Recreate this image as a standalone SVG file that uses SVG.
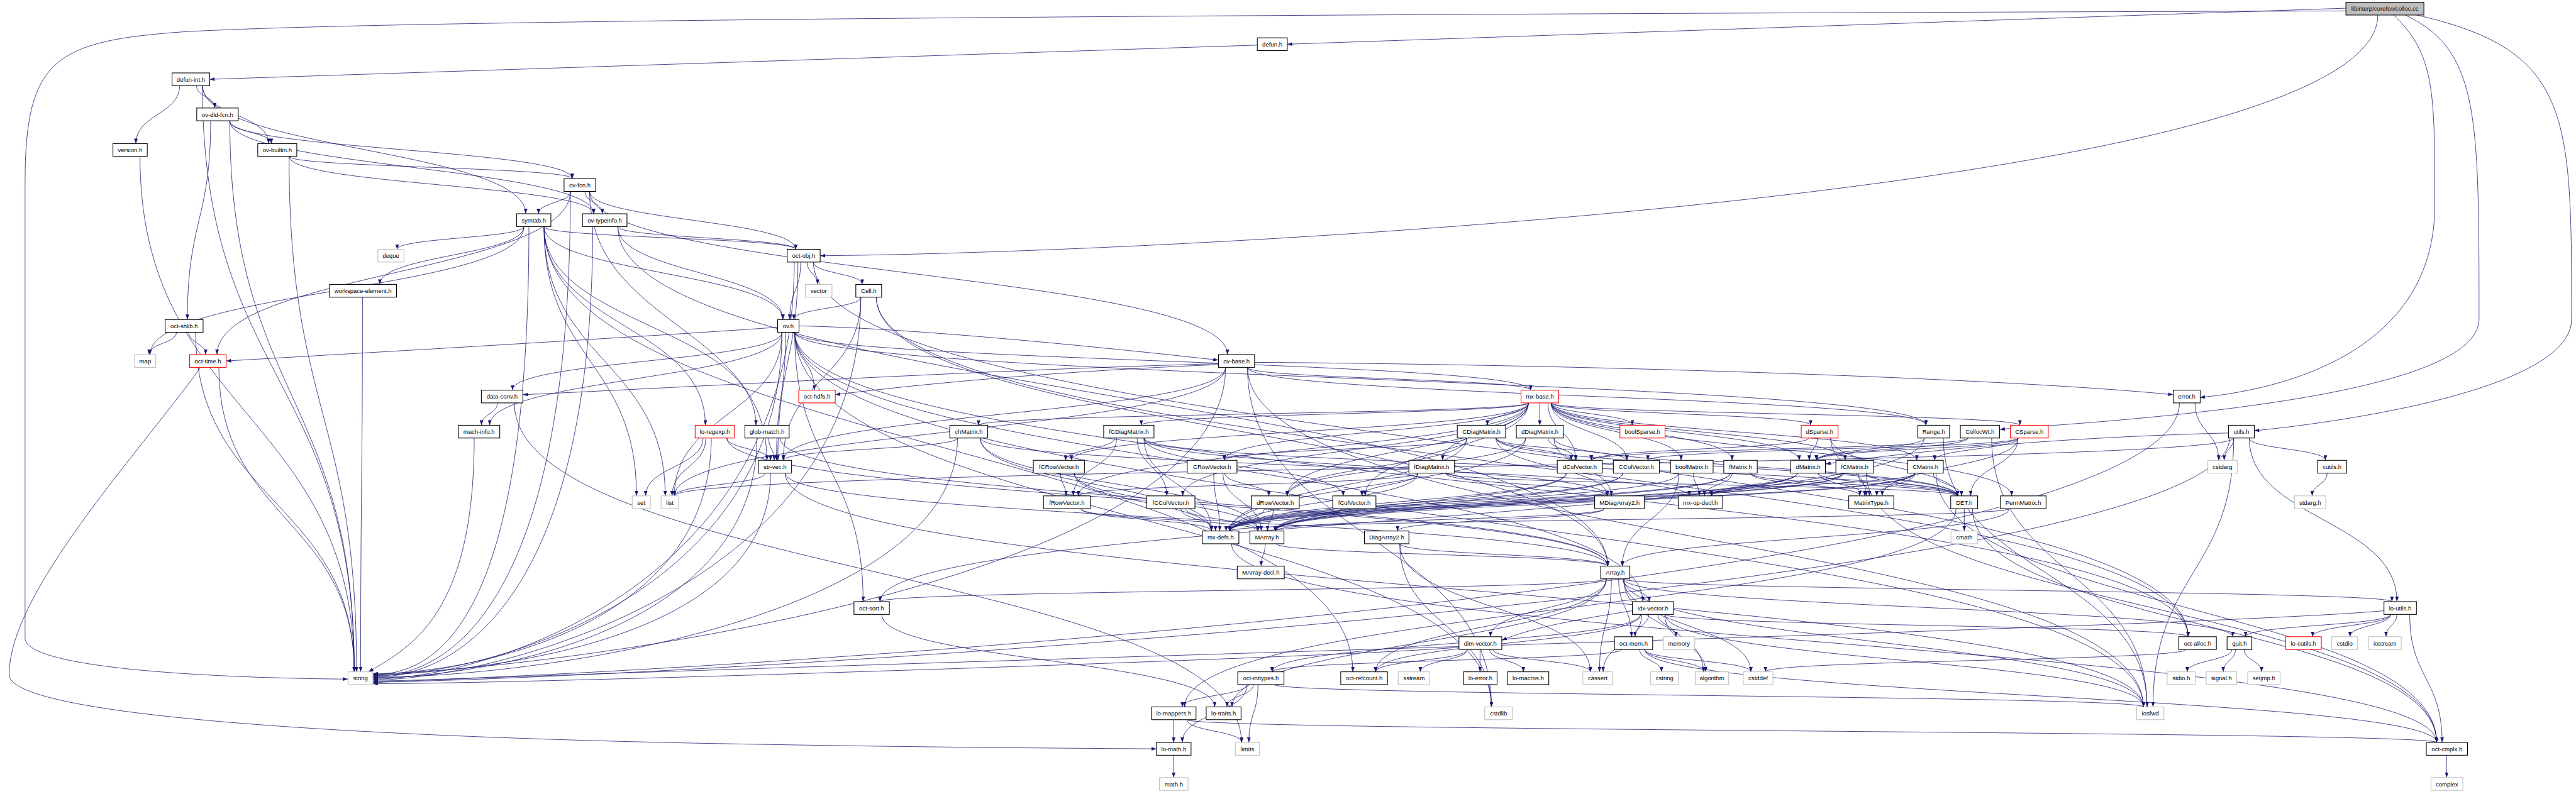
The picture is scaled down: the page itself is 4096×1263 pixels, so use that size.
<svg xmlns="http://www.w3.org/2000/svg" width="4096" height="1263" viewBox="0 0 4096 1263">
<defs>
<marker id="a" viewBox="0 0 11 8" refX="11" refY="4" markerWidth="11" markerHeight="8" markerUnits="userSpaceOnUse" orient="auto"><path d="M0,0L11,4L0,8z" fill="#191970"/></marker>
<style>
.k{fill:#fff;stroke:#000;stroke-width:1.5}
.g{fill:#fff;stroke:#bfbfbf;stroke-width:1.5}
.r{fill:#fff;stroke:#ff0000;stroke-width:1.5}
.root{fill:#bfbfbf;stroke:#000;stroke-width:1.5}
text{font-family:"Liberation Sans",Arial,sans-serif;font-size:13.2px;text-anchor:middle;fill:#000}
#edges path{fill:none;stroke:#191970;stroke-width:1.1;marker-end:url(#a)}
</style>
</defs>
<rect width="4096" height="1263" fill="#fff"/>
<g transform="scale(0.725)">
<g id="edges">
<path d="M5145 24C3200 30 900 40 400 70C120 90 55 130 55 400L55 1400C55 1470 500 1488 763 1490"/>
<path d="M5145 18L2823 97"/>
<path d="M5215 33C5215 420 2600 555 1799 561"/>
<path d="M5250 33C5340 120 5340 200 5340 450C5340 800 4950 860 4825 872"/>
<path d="M5300 33C5640 110 5640 250 5640 700C5640 860 5100 930 4944 945"/>
<path d="M5275 33C5437 110 5437 250 5437 700C5437 880 4600 925 4386 942"/>
<path d="M2757 99L460 174"/>
<path d="M444 188C444 831 777 831 777 1474"/>
<path d="M444 188C444 251 589 251 589 315"/>
<path d="M431 188C431 212 471 212 471 237"/>
<path d="M444 188C444 328 1153 328 1153 469"/>
<path d="M394 188C394 251 298 251 298 315"/>
<path d="M504 265C504 869 777 869 777 1474"/>
<path d="M462 265C462 483 411 483 411 701"/>
<path d="M503 265C503 290 595 290 595 315"/>
<path d="M504 265C504 328 1255 328 1255 392"/>
<path d="M504 265C504 367 1302 367 1302 469"/>
<path d="M307 343C307 908 777 908 777 1474"/>
<path d="M634 343C634 908 782 908 782 1474"/>
<path d="M634 343C634 367 1255 367 1255 392"/>
<path d="M634 343C634 406 1302 406 1302 469"/>
<path d="M1251 420C1251 1300 1000 1484 818 1484"/>
<path d="M1251 420C1251 599 476 599 476 778"/>
<path d="M1293 420C1293 715 1682 715 1682 1010"/>
<path d="M1293 420C1293 483 1745 483 1745 547"/>
<path d="M1293 420C1293 599 2692 599 2692 778"/>
<path d="M1283 420C1283 444 1321 444 1321 469"/>
<path d="M1252 420C1252 444 1181 444 1181 469"/>
<path d="M1149 497C1149 522 871 522 871 547"/>
<path d="M1193 497C1193 792 1459 792 1459 1088"/>
<path d="M1149 497C1149 637 329 637 329 778"/>
<path d="M1193 497C1193 792 1396 792 1396 1088"/>
<path d="M1160 497C1160 1300 990 1480 818 1480"/>
<path d="M1193 497C1193 715 1658 715 1658 933"/>
<path d="M1193 497C1193 715 1547 715 1547 933"/>
<path d="M1193 497C1193 522 1745 522 1745 547"/>
<path d="M1149 497C1149 560 833 560 833 624"/>
<path d="M1193 497C1193 985 2967 985 2967 1474"/>
<path d="M1193 497C1193 599 1717 599 1717 701"/>
<path d="M1300 497C1300 1300 1010 1486 818 1486"/>
<path d="M1355 497C1355 869 3526 869 3526 1242"/>
<path d="M1355 497C1355 522 1745 522 1745 547"/>
<path d="M1355 497C1355 599 1717 599 1717 701"/>
<path d="M429 729C429 1101 777 1101 777 1474"/>
<path d="M387 729C387 753 327 753 327 778"/>
<path d="M414 729C414 753 451 753 451 778"/>
<path d="M795 652C795 1063 791 1063 791 1474"/>
<path d="M1742 575C1742 1300 1050 1490 818 1490"/>
<path d="M1770 575C1770 600 1793 600 1793 624"/>
<path d="M1784 575C1784 986 4799 986 4799 1397"/>
<path d="M1750 575C1750 792 1706 792 1706 1010"/>
<path d="M1784 575C1784 600 1891 600 1891 624"/>
<path d="M1756 575C1756 638 1732 638 1732 701"/>
<path d="M1888 652C1888 1300 1060 1492 818 1492"/>
<path d="M1922 652C1922 947 3526 947 3526 1242"/>
<path d="M1922 652C1922 1024 4799 1024 4799 1397"/>
<path d="M1888 652C1888 831 1718 831 1718 1010"/>
<path d="M1888 652C1888 676 1741 676 1741 701"/>
<path d="M1743 729C1743 1140 3271 1140 3271 1551"/>
<path d="M1743 729C1743 1140 4701 1140 4701 1551"/>
<path d="M1715 729C1715 1300 1080 1482 818 1482"/>
<path d="M1715 729C1715 908 1479 908 1479 1088"/>
<path d="M1743 729C1743 831 4224 831 4224 933"/>
<path d="M1715 729C1715 792 1124 792 1124 856"/>
<path d="M1743 729C1743 1024 3603 1024 3603 1320"/>
<path d="M1715 729C1715 831 1074 831 1074 933"/>
<path d="M1743 729C1743 792 3357 792 3357 856"/>
<path d="M1743 729C1743 1063 4799 1063 4799 1397"/>
<path d="M1705 718C1400 740 700 780 496 792"/>
<path d="M1723 729C1723 869 1703 869 1703 1010"/>
<path d="M1743 729C1743 792 1786 792 1786 856"/>
<path d="M1743 729C1743 1024 1893 1024 1893 1320"/>
<path d="M1752 715C2000 720 2400 760 2672 790"/>
<path d="M480 806C480 1140 777 1140 777 1474"/>
<path d="M440 806C300 1000 20 1300 20 1480C20 1560 600 1610 1500 1630C2000 1640 2400 1642 2536 1643"/>
<path d="M2736 806C2736 1178 3271 1178 3271 1551"/>
<path d="M2736 806C2736 1178 4701 1178 4701 1551"/>
<path d="M2688 806C2688 947 1479 947 1479 1088"/>
<path d="M2688 806C2688 1300 1100 1478 818 1478"/>
<path d="M2736 806C2736 869 4224 869 4224 933"/>
<path d="M2672 798C2200 810 1500 850 1147 866"/>
<path d="M2736 806C2736 831 3357 831 3357 856"/>
<path d="M2688 806C2688 908 1718 908 1718 1010"/>
<path d="M2751 795C3500 800 4400 830 4766 866"/>
<path d="M2672 800C2300 815 2000 845 1832 866"/>
<path d="M1128 884C1128 1256 2723 1256 2723 1629"/>
<path d="M1091 884C1091 908 1056 908 1056 933"/>
<path d="M1040 961C1040 1350 900 1420 808 1474"/>
<path d="M4814 884C4814 947 4866 947 4866 1010"/>
<path d="M4780 884C4780 1300 1200 1494 818 1494"/>
<path d="M4899 961C4899 985 4878 985 4878 1010"/>
<path d="M4899 961C4899 1256 4722 1256 4722 1551"/>
<path d="M4890 961C4890 1300 1300 1496 818 1496"/>
<path d="M4899 961C4899 1024 1479 1024 1479 1088"/>
<path d="M4887 950C4500 960 4200 990 4004 1018"/>
<path d="M4933 961C4933 1140 5257 1140 5257 1320"/>
<path d="M4933 961C4933 985 5100 985 5100 1010"/>
<path d="M5104 1038C5104 1063 5071 1063 5071 1088"/>
<path d="M1548 961C1548 1024 1474 1024 1474 1088"/>
<path d="M1542 961C1542 1024 1416 1024 1416 1088"/>
<path d="M1560 961C1560 1350 1100 1470 818 1480"/>
<path d="M1594 961C1594 1101 3526 1101 3526 1242"/>
<path d="M1594 961C1594 985 1690 985 1690 1010"/>
<path d="M1660 961C1660 1350 1150 1480 818 1488"/>
<path d="M1711 961C1711 1101 3526 1101 3526 1242"/>
<path d="M1686 961C1686 985 1698 985 1698 1010"/>
<path d="M1722 1038C1722 1294 4701 1294 4701 1551"/>
<path d="M1678 1038C1678 1063 1479 1063 1479 1088"/>
<path d="M1690 1038C1690 1400 1100 1470 818 1482"/>
<path d="M1722 1038C1722 1140 3526 1140 3526 1242"/>
<path d="M3402 884C3402 947 3687 947 3687 1010"/>
<path d="M3352 884C3352 908 2146 908 2146 933"/>
<path d="M3395 884C3395 947 3456 947 3456 1010"/>
<path d="M3352 884C3352 986 2823 986 2823 1088"/>
<path d="M3402 884C3402 947 3946 947 3946 1010"/>
<path d="M3402 884C3402 947 3568 947 3568 1010"/>
<path d="M3352 884C3352 947 2685 947 2685 1010"/>
<path d="M3402 884C3402 947 4204 947 4204 1010"/>
<path d="M3352 884C3352 986 2994 986 2994 1088"/>
<path d="M3352 884C3352 986 2365 986 2365 1088"/>
<path d="M3402 884C3402 947 3799 947 3799 1010"/>
<path d="M3352 884C3352 986 2594 986 2594 1088"/>
<path d="M3352 884C3352 947 2350 947 2350 1010"/>
<path d="M3402 884C3402 947 4047 947 4047 1010"/>
<path d="M3377 884L3377 933"/>
<path d="M3352 884C3352 908 3262 908 3262 933"/>
<path d="M3352 884C3352 947 3164 947 3164 1010"/>
<path d="M3352 884C3352 908 2503 908 2503 933"/>
<path d="M3402 884C3402 986 4412 986 4412 1088"/>
<path d="M3402 884C3402 908 3580 908 3580 933"/>
<path d="M3402 884C3402 908 3971 908 3971 933"/>
<path d="M3402 884C3402 908 4430 908 4430 933"/>
<path d="M2100 961C2100 1350 1200 1486 818 1486"/>
<path d="M2150 961C2150 1063 2657 1063 2657 1165"/>
<path d="M2150 961C2150 1024 3705 1024 3705 1088"/>
<path d="M2100 961C2100 985 1718 985 1718 1010"/>
<path d="M2150 961C2150 1063 2759 1063 2759 1165"/>
<path d="M2445 961C2445 985 2337 985 2337 1010"/>
<path d="M2449 961C2449 1024 2354 1024 2354 1088"/>
<path d="M2494 961C2494 1024 2559 1024 2559 1088"/>
<path d="M2509 961C2509 1024 2946 1024 2946 1088"/>
<path d="M2509 961C2509 1024 3525 1024 3525 1088"/>
<path d="M2509 961C2509 1063 2657 1063 2657 1165"/>
<path d="M2509 961C2509 1024 4293 1024 4293 1088"/>
<path d="M3217 961C3217 985 2685 985 2685 1010"/>
<path d="M3217 961C3217 1024 2823 1024 2823 1088"/>
<path d="M3281 961C3281 985 3568 985 3568 1010"/>
<path d="M3281 961C3281 985 3446 985 3446 1010"/>
<path d="M3281 961C3281 1024 3525 1024 3525 1088"/>
<path d="M3217 961C3217 1063 2697 1063 2697 1165"/>
<path d="M3281 961C3281 1024 4293 1024 4293 1088"/>
<path d="M3346 961C3346 1024 2823 1024 2823 1088"/>
<path d="M3395 961C3395 985 3456 985 3456 1010"/>
<path d="M3408 961C3408 1024 3534 1024 3534 1088"/>
<path d="M3346 961C3346 1063 2697 1063 2697 1165"/>
<path d="M3408 961C3408 1024 4293 1024 4293 1088"/>
<path d="M3110 1038C3110 1063 2365 1063 2365 1088"/>
<path d="M3110 1038C3110 1063 2987 1063 2987 1088"/>
<path d="M3170 1038C3170 1063 3525 1063 3525 1088"/>
<path d="M3110 1038C3110 1101 2697 1101 2697 1165"/>
<path d="M3170 1038C3170 1063 4293 1063 4293 1088"/>
<path d="M2326 1038C2326 1063 2338 1063 2338 1088"/>
<path d="M2356 1038C2356 1101 2759 1101 2759 1165"/>
<path d="M2356 1038C2356 1101 2657 1101 2657 1165"/>
<path d="M2686 1038C2686 1063 2783 1063 2783 1088"/>
<path d="M2682 1038C2682 1101 2766 1101 2766 1165"/>
<path d="M2662 1038C2662 1101 2675 1101 2675 1165"/>
<path d="M2371 1116C2371 1140 2759 1140 2759 1165"/>
<path d="M2371 1116C2371 1140 2657 1140 2657 1165"/>
<path d="M2600 1116C2600 1140 2759 1140 2759 1165"/>
<path d="M2590 1116C2590 1140 2666 1140 2666 1165"/>
<path d="M2793 1116C2793 1140 2780 1140 2780 1165"/>
<path d="M2773 1116C2773 1140 2689 1140 2689 1165"/>
<path d="M2942 1116C2942 1140 2797 1140 2797 1165"/>
<path d="M2942 1116C2942 1140 2697 1140 2697 1165"/>
<path d="M3435 1038C3435 1101 2797 1101 2797 1165"/>
<path d="M3435 1038C3435 1101 2697 1101 2697 1165"/>
<path d="M3559 1038C3559 1101 2797 1101 2797 1165"/>
<path d="M3559 1038C3559 1101 2697 1101 2697 1165"/>
<path d="M3682 1038C3682 1101 2697 1101 2697 1165"/>
<path d="M3714 1038C3714 1063 3727 1063 3727 1088"/>
<path d="M3682 1038C3682 1140 3558 1140 3558 1242"/>
<path d="M3795 1038C3795 1101 2797 1101 2797 1165"/>
<path d="M3795 1038C3795 1101 2697 1101 2697 1165"/>
<path d="M3799 1038C3799 1063 3738 1063 3738 1088"/>
<path d="M3839 1038C3839 1063 4079 1063 4079 1088"/>
<path d="M3839 1038C3839 1063 4293 1063 4293 1088"/>
<path d="M3942 1038C3942 1101 2797 1101 2797 1165"/>
<path d="M3942 1038C3942 1101 2697 1101 2697 1165"/>
<path d="M3942 1038C3942 1063 3753 1063 3753 1088"/>
<path d="M3988 1038C3988 1063 4090 1063 4090 1088"/>
<path d="M3988 1038C3988 1063 4293 1063 4293 1088"/>
<path d="M4043 1038C4043 1101 2797 1101 2797 1165"/>
<path d="M4043 1038C4043 1101 2697 1101 2697 1165"/>
<path d="M4043 1038C4043 1063 3753 1063 3753 1088"/>
<path d="M4075 1038C4075 1063 4100 1063 4100 1088"/>
<path d="M4093 1038C4093 1063 4293 1063 4293 1088"/>
<path d="M4093 1038C4093 1333 5344 1333 5344 1629"/>
<path d="M4200 1038C4200 1101 2797 1101 2797 1165"/>
<path d="M4200 1038C4200 1101 2697 1101 2697 1165"/>
<path d="M4200 1038C4200 1063 3753 1063 3753 1088"/>
<path d="M4200 1038C4200 1063 4116 1063 4116 1088"/>
<path d="M4240 1038C4240 1063 4302 1063 4302 1088"/>
<path d="M4246 1038C4246 1333 5344 1333 5344 1629"/>
<path d="M3986 961C3986 985 3968 985 3968 1010"/>
<path d="M4015 961C4015 1024 4093 1024 4093 1088"/>
<path d="M4015 961C4015 1024 4293 1024 4293 1088"/>
<path d="M3967 961C3967 985 3490 985 3490 1010"/>
<path d="M4426 961C4426 985 4243 985 4243 1010"/>
<path d="M4426 961C4426 985 3984 985 3984 1010"/>
<path d="M4426 961C4426 1024 4128 1024 4128 1088"/>
<path d="M4426 961C4426 1024 4322 1024 4322 1088"/>
<path d="M4426 961C4426 985 3614 985 3614 1010"/>
<path d="M4262 961C4262 1256 4709 1256 4709 1551"/>
<path d="M4220 961C4220 985 3984 985 3984 1010"/>
<path d="M4220 961C4220 1140 1930 1140 1930 1320"/>
<path d="M4368 961C4368 1256 4709 1256 4709 1551"/>
<path d="M4316 961C4316 985 3984 985 3984 1010"/>
<path d="M4316 961C4316 985 3490 985 3490 1010"/>
<path d="M4407 1116C4407 1179 3558 1179 3558 1242"/>
<path d="M4407 1116C4407 1140 2697 1140 2697 1165"/>
<path d="M4308 1116L4308 1165"/>
<path d="M4326 1116C4326 1372 5344 1372 5344 1629"/>
<path d="M4290 1116C4290 1333 2598 1333 2598 1551"/>
<path d="M3519 1116C3519 1140 3065 1140 3065 1165"/>
<path d="M3519 1116C3519 1140 2797 1140 2797 1165"/>
<path d="M2800 1193C2800 1217 3526 1217 3526 1242"/>
<path d="M2775 1193C2775 1217 2766 1217 2766 1242"/>
<path d="M2701 1193C2701 1411 5344 1411 5344 1629"/>
<path d="M3070 1193C3070 1333 3488 1333 3488 1474"/>
<path d="M3070 1193C3070 1372 3271 1372 3271 1551"/>
<path d="M3070 1193C3070 1217 3526 1217 3526 1242"/>
<path d="M3534 1270C3534 1372 3508 1372 3508 1474"/>
<path d="M3561 1270C3561 1372 3840 1372 3840 1474"/>
<path d="M3561 1270C3561 1372 3736 1372 3736 1474"/>
<path d="M3561 1270C3561 1410 4701 1410 4701 1551"/>
<path d="M3523 1270C3523 1295 1930 1295 1930 1320"/>
<path d="M3523 1270C3523 1333 3269 1333 3269 1397"/>
<path d="M3559 1270C3559 1295 3617 1295 3617 1320"/>
<path d="M3523 1270C3523 1410 2702 1410 2702 1551"/>
<path d="M3561 1270C3561 1295 5246 1295 5246 1320"/>
<path d="M3550 1270C3550 1333 3578 1333 3578 1397"/>
<path d="M3523 1270C3523 1372 3017 1372 3017 1474"/>
<path d="M3561 1270C3561 1333 4897 1333 4897 1397"/>
<path d="M1934 1348C1934 1449 2664 1449 2664 1551"/>
<path d="M3601 1348C3601 1411 3516 1411 3516 1474"/>
<path d="M3651 1348C3651 1411 3741 1411 3741 1474"/>
<path d="M3652 1348C3652 1449 4701 1449 4701 1551"/>
<path d="M3636 1348C3636 1372 3676 1372 3676 1397"/>
<path d="M3580 1340C3450 1360 3350 1380 3294 1405"/>
<path d="M3598 1348C3598 1411 2790 1411 2790 1474"/>
<path d="M3652 1348C3652 1372 4799 1372 4799 1397"/>
<path d="M3616 1348C3616 1372 3586 1372 3586 1397"/>
<path d="M3598 1348C3598 1411 3017 1411 3017 1474"/>
<path d="M3274 1425C3274 1449 3488 1449 3488 1474"/>
<path d="M3218 1425C3218 1449 3115 1449 3115 1474"/>
<path d="M3200 1420C3000 1440 1200 1500 818 1500"/>
<path d="M3246 1425L3246 1474"/>
<path d="M3267 1425C3267 1449 3341 1449 3341 1474"/>
<path d="M3218 1425C3218 1449 3017 1449 3017 1474"/>
<path d="M3607 1425C3607 1449 3840 1449 3840 1474"/>
<path d="M3596 1425C3596 1449 3644 1449 3644 1474"/>
<path d="M3607 1425C3607 1449 3737 1449 3737 1474"/>
<path d="M3607 1425C3607 1527 5344 1527 5344 1629"/>
<path d="M3557 1425C3557 1449 2790 1449 2790 1474"/>
<path d="M5243 1348C5243 1372 5154 1372 5154 1397"/>
<path d="M5257 1348C5257 1372 5233 1372 5233 1397"/>
<path d="M5228 1340C4800 1380 1300 1470 818 1498"/>
<path d="M5243 1348C5243 1372 5072 1372 5072 1397"/>
<path d="M5285 1348C5285 1488 5356 1488 5356 1629"/>
<path d="M5243 1348C5243 1372 4925 1372 4925 1397"/>
<path d="M4895 1425C4895 1449 4797 1449 4797 1474"/>
<path d="M4903 1425C4903 1449 4876 1449 4876 1474"/>
<path d="M4922 1425C4922 1449 4960 1449 4960 1474"/>
<path d="M4794 1425C4794 1449 3872 1449 3872 1474"/>
<path d="M2759 1502C2759 1565 2739 1565 2739 1629"/>
<path d="M2795 1502C2795 1526 4701 1526 4701 1551"/>
<path d="M2749 1502C2749 1526 2691 1526 2691 1551"/>
<path d="M2735 1502C2735 1526 2593 1526 2593 1551"/>
<path d="M2735 1502C2735 1565 2593 1565 2593 1629"/>
<path d="M2603 1579C2603 1604 2723 1604 2723 1629"/>
<path d="M2574 1579L2574 1629"/>
<path d="M2603 1579C2603 1604 5344 1604 5344 1629"/>
<path d="M2574 1657L2574 1706"/>
<path d="M5366 1657L5366 1706"/>
</g>
<g id="nodes">
<g id="n-colloc"><rect class="root" x="5145" y="5" width="171" height="28"/><text x="5230.5" y="24">libinterp/corefcn/colloc.cc</text></g>
<g id="n-defun"><rect class="k" x="2757.5" y="83" width="65.7" height="28"/><text x="2790.4" y="102">defun.h</text></g>
<g id="n-defun-int"><rect class="k" x="377.3" y="160" width="82.5" height="28"/><text x="418.6" y="179">defun-int.h</text></g>
<g id="n-ov-dld-fcn"><rect class="k" x="431.5" y="237" width="91" height="28"/><text x="477" y="256">ov-dld-fcn.h</text></g>
<g id="n-version"><rect class="k" x="247.7" y="315" width="75.3" height="28"/><text x="285.4" y="334">version.h</text></g>
<g id="n-ov-builtin"><rect class="k" x="565.3" y="315" width="85.6" height="28"/><text x="608.1" y="334">ov-builtin.h</text></g>
<g id="n-ov-fcn"><rect class="k" x="1237.1" y="392" width="69.3" height="28"/><text x="1271.8" y="411">ov-fcn.h</text></g>
<g id="n-symtab"><rect class="k" x="1132.9" y="469" width="75.3" height="28"/><text x="1170.6" y="488">symtab.h</text></g>
<g id="n-ov-typeinfo"><rect class="k" x="1277.5" y="469" width="97.6" height="28"/><text x="1326.3" y="488">ov-typeinfo.h</text></g>
<g id="n-deque"><rect class="g" x="828.7" y="547" width="57.2" height="28"/><text x="857.3" y="566">deque</text></g>
<g id="n-oct-obj"><rect class="k" x="1726.5" y="547" width="72.3" height="28"/><text x="1762.7" y="566">oct-obj.h</text></g>
<g id="n-workspace-element"><rect class="k" x="722.6" y="624" width="147" height="28"/><text x="796.1" y="643">workspace-element.h</text></g>
<g id="n-vector"><rect class="g" x="1766.3" y="624" width="58.4" height="28"/><text x="1795.5" y="643">vector</text></g>
<g id="n-Cell"><rect class="k" x="1877" y="624" width="56.6" height="28"/><text x="1905.3" y="643">Cell.h</text></g>
<g id="n-oct-shlib"><rect class="k" x="362.2" y="701" width="83.2" height="28"/><text x="403.8" y="720">oct-shlib.h</text></g>
<g id="n-ov"><rect class="k" x="1705.4" y="701" width="47" height="28"/><text x="1728.9" y="720">ov.h</text></g>
<g id="n-map"><rect class="g" x="295.3" y="778" width="46.4" height="28"/><text x="318.5" y="797">map</text></g>
<g id="n-oct-time"><rect class="r" x="415.8" y="778" width="80.2" height="28"/><text x="455.9" y="797">oct-time.h</text></g>
<g id="n-ov-base"><rect class="k" x="2672.5" y="778" width="79" height="28"/><text x="2712" y="797">ov-base.h</text></g>
<g id="n-data-conv"><rect class="k" x="1055.7" y="856" width="91" height="28"/><text x="1101.2" y="875">data-conv.h</text></g>
<g id="n-oct-hdf5"><rect class="r" x="1751.8" y="856" width="80.1" height="28"/><text x="1791.9" y="875">oct-hdf5.h</text></g>
<g id="n-mx-base"><rect class="r" x="3335.9" y="856" width="82.5" height="28"/><text x="3377.2" y="875">mx-base.h</text></g>
<g id="n-error"><rect class="k" x="4766.3" y="856" width="59.1" height="28"/><text x="4795.9" y="875">error.h</text></g>
<g id="n-mach-info"><rect class="k" x="1005.1" y="933" width="91" height="28"/><text x="1050.6" y="952">mach-info.h</text></g>
<g id="n-lo-regexp"><rect class="r" x="1524.6" y="933" width="86.2" height="28"/><text x="1567.7" y="952">lo-regexp.h</text></g>
<g id="n-glob-match"><rect class="k" x="1633.7" y="933" width="97" height="28"/><text x="1682.2" y="952">glob-match.h</text></g>
<g id="n-chMatrix"><rect class="k" x="2083.1" y="933" width="83.2" height="28"/><text x="2124.7" y="952">chMatrix.h</text></g>
<g id="n-fCDiagMatrix"><rect class="k" x="2420.6" y="933" width="110.3" height="28"/><text x="2475.8" y="952">fCDiagMatrix.h</text></g>
<g id="n-CDiagMatrix"><rect class="k" x="3196.1" y="933" width="106" height="28"/><text x="3249.1" y="952">CDiagMatrix.h</text></g>
<g id="n-dDiagMatrix"><rect class="k" x="3325.6" y="933" width="103.1" height="28"/><text x="3377.2" y="952">dDiagMatrix.h</text></g>
<g id="n-boolSparse"><rect class="r" x="3552.8" y="933" width="98.9" height="28"/><text x="3602.3" y="952">boolSparse.h</text></g>
<g id="n-dSparse"><rect class="r" x="3950.4" y="933" width="80.8" height="28"/><text x="3990.8" y="952">dSparse.h</text></g>
<g id="n-Range"><rect class="k" x="4206" y="933" width="69.9" height="28"/><text x="4241" y="952">Range.h</text></g>
<g id="n-CollocWt"><rect class="k" x="4299.4" y="933" width="86.2" height="28"/><text x="4342.5" y="952">CollocWt.h</text></g>
<g id="n-CSparse"><rect class="r" x="4409.1" y="933" width="83.1" height="28"/><text x="4450.7" y="952">CSparse.h</text></g>
<g id="n-utils"><rect class="k" x="4887.4" y="933" width="56.7" height="28"/><text x="4915.8" y="952">utils.h</text></g>
<g id="n-str-vec"><rect class="k" x="1663.2" y="1010" width="72.9" height="28"/><text x="1699.7" y="1029">str-vec.h</text></g>
<g id="n-fCRowVector"><rect class="k" x="2266.3" y="1010" width="112.1" height="28"/><text x="2322.4" y="1029">fCRowVector.h</text></g>
<g id="n-CRowVector"><rect class="k" x="2603.8" y="1010" width="109.1" height="28"/><text x="2658.4" y="1029">CRowVector.h</text></g>
<g id="n-fDiagMatrix"><rect class="k" x="3090" y="1010" width="100" height="28"/><text x="3140" y="1029">fDiagMatrix.h</text></g>
<g id="n-dColVector"><rect class="k" x="3415.4" y="1010" width="98.9" height="28"/><text x="3464.9" y="1029">dColVector.h</text></g>
<g id="n-CColVector"><rect class="k" x="3538.4" y="1010" width="101.2" height="28"/><text x="3589" y="1029">CColVector.h</text></g>
<g id="n-boolMatrix"><rect class="k" x="3663.7" y="1010" width="93.5" height="28"/><text x="3710.5" y="1029">boolMatrix.h</text></g>
<g id="n-fMatrix"><rect class="k" x="3780.5" y="1010" width="73.5" height="28"/><text x="3817.3" y="1029">fMatrix.h</text></g>
<g id="n-dMatrix"><rect class="k" x="3927.5" y="1010" width="76" height="28"/><text x="3965.5" y="1029">dMatrix.h</text></g>
<g id="n-fCMatrix"><rect class="k" x="4026.4" y="1010" width="82.6" height="28"/><text x="4067.7" y="1029">fCMatrix.h</text></g>
<g id="n-CMatrix"><rect class="k" x="4183.7" y="1010" width="78.3" height="28"/><text x="4222.9" y="1029">CMatrix.h</text></g>
<g id="n-cstdarg"><rect class="g" x="4842.2" y="1010" width="64.5" height="28"/><text x="4874.5" y="1029">cstdarg</text></g>
<g id="n-cutils"><rect class="k" x="5082.7" y="1010" width="63.9" height="28"/><text x="5114.7" y="1029">cutils.h</text></g>
<g id="n-set"><rect class="g" x="1386.6" y="1088" width="39.7" height="28"/><text x="1406.5" y="1107">set</text></g>
<g id="n-list"><rect class="g" x="1449.9" y="1088" width="38.5" height="28"/><text x="1469.2" y="1107">list</text></g>
<g id="n-fRowVector"><rect class="k" x="2288.6" y="1088" width="102.5" height="28"/><text x="2339.9" y="1107">fRowVector.h</text></g>
<g id="n-fCColVector"><rect class="k" x="2515.2" y="1088" width="105.5" height="28"/><text x="2568" y="1107">fCColVector.h</text></g>
<g id="n-dRowVector"><rect class="k" x="2744.2" y="1088" width="105.3" height="28"/><text x="2796.9" y="1107">dRowVector.h</text></g>
<g id="n-fColVector"><rect class="k" x="2923" y="1088" width="94.7" height="28"/><text x="2970.4" y="1107">fColVector.h</text></g>
<g id="n-MDiagArray2"><rect class="k" x="3497.4" y="1088" width="109.1" height="28"/><text x="3552" y="1107">MDiagArray2.h</text></g>
<g id="n-mx-op-decl"><rect class="k" x="3680.6" y="1088" width="97.4" height="28"/><text x="3729.3" y="1107">mx-op-decl.h</text></g>
<g id="n-MatrixType"><rect class="k" x="4054.7" y="1088" width="98.8" height="28"/><text x="4104.1" y="1107">MatrixType.h</text></g>
<g id="n-DET"><rect class="k" x="4278.3" y="1088" width="59.1" height="28"/><text x="4307.9" y="1107">DET.h</text></g>
<g id="n-PermMatrix"><rect class="k" x="4387.4" y="1088" width="100" height="28"/><text x="4437.4" y="1107">PermMatrix.h</text></g>
<g id="n-stdarg"><rect class="g" x="5032.1" y="1088" width="68.7" height="28"/><text x="5066.5" y="1107">stdarg.h</text></g>
<g id="n-mx-defs"><rect class="k" x="2637" y="1165" width="80.1" height="28"/><text x="2677.1" y="1184">mx-defs.h</text></g>
<g id="n-MArray"><rect class="k" x="2741.2" y="1165" width="74.8" height="28"/><text x="2778.6" y="1184">MArray.h</text></g>
<g id="n-DiagArray2"><rect class="k" x="2992.4" y="1165" width="97.6" height="28"/><text x="3041.2" y="1184">DiagArray2.h</text></g>
<g id="n-cmath"><rect class="g" x="4278.9" y="1165" width="57.9" height="28"/><text x="4307.9" y="1184">cmath</text></g>
<g id="n-MArray-decl"><rect class="k" x="2713.5" y="1242" width="103.1" height="28"/><text x="2765.1" y="1261">MArray-decl.h</text></g>
<g id="n-Array"><rect class="k" x="3510.7" y="1242" width="63.8" height="28"/><text x="3542.6" y="1261">Array.h</text></g>
<g id="n-oct-sort"><rect class="k" x="1872.9" y="1320" width="77.6" height="28"/><text x="1911.7" y="1339">oct-sort.h</text></g>
<g id="n-idx-vector"><rect class="k" x="3580" y="1320" width="90.4" height="28"/><text x="3625.2" y="1339">idx-vector.h</text></g>
<g id="n-lo-utils"><rect class="k" x="5228.5" y="1320" width="71.2" height="28"/><text x="5264.1" y="1339">lo-utils.h</text></g>
<g id="n-dim-vector"><rect class="k" x="3199.7" y="1397" width="94" height="28"/><text x="3246.7" y="1416">dim-vector.h</text></g>
<g id="n-oct-mem"><rect class="k" x="3540.8" y="1397" width="83.8" height="28"/><text x="3582.7" y="1416">oct-mem.h</text></g>
<g id="n-memory"><rect class="g" x="3648" y="1397" width="68.8" height="28"/><text x="3682.4" y="1416">memory</text></g>
<g id="n-oct-alloc"><rect class="k" x="4778.3" y="1397" width="82.6" height="28"/><text x="4819.6" y="1416">oct-alloc.h</text></g>
<g id="n-quit"><rect class="k" x="4884.4" y="1397" width="54.3" height="28"/><text x="4911.6" y="1416">quit.h</text></g>
<g id="n-lo-cutils"><rect class="r" x="5012.8" y="1397" width="78.3" height="28"/><text x="5052" y="1416">lo-cutils.h</text></g>
<g id="n-cstdio"><rect class="g" x="5114" y="1397" width="56.7" height="28"/><text x="5142.4" y="1416">cstdio</text></g>
<g id="n-iostream"><rect class="g" x="5194.8" y="1397" width="71.7" height="28"/><text x="5230.7" y="1416">iostream</text></g>
<g id="n-string"><rect class="g" x="763.6" y="1474" width="54.2" height="28"/><text x="790.7" y="1493">string</text></g>
<g id="n-oct-inttypes"><rect class="k" x="2714.7" y="1474" width="101.3" height="28"/><text x="2765.4" y="1493">oct-inttypes.h</text></g>
<g id="n-oct-refcount"><rect class="k" x="2940.5" y="1474" width="102.5" height="28"/><text x="2991.8" y="1493">oct-refcount.h</text></g>
<g id="n-sstream"><rect class="g" x="3066.5" y="1474" width="69.3" height="28"/><text x="3101.2" y="1493">sstream</text></g>
<g id="n-lo-error"><rect class="k" x="3209.9" y="1474" width="73.5" height="28"/><text x="3246.7" y="1493">lo-error.h</text></g>
<g id="n-lo-macros"><rect class="k" x="3306.3" y="1474" width="90.5" height="28"/><text x="3351.6" y="1493">lo-macros.h</text></g>
<g id="n-cassert"><rect class="g" x="3471.5" y="1474" width="65.1" height="28"/><text x="3504" y="1493">cassert</text></g>
<g id="n-cstring"><rect class="g" x="3620.3" y="1474" width="60.9" height="28"/><text x="3650.8" y="1493">cstring</text></g>
<g id="n-algorithm"><rect class="g" x="3718" y="1474" width="73.3" height="28"/><text x="3754.7" y="1493">algorithm</text></g>
<g id="n-cstddef"><rect class="g" x="3823.3" y="1474" width="65.1" height="28"/><text x="3855.9" y="1493">cstddef</text></g>
<g id="n-stdio"><rect class="g" x="4753" y="1474" width="61.5" height="28"/><text x="4783.8" y="1493">stdio.h</text></g>
<g id="n-signal"><rect class="g" x="4838.6" y="1474" width="66.9" height="28"/><text x="4872.1" y="1493">signal.h</text></g>
<g id="n-setjmp"><rect class="g" x="4929.6" y="1474" width="71.1" height="28"/><text x="4965.2" y="1493">setjmp.h</text></g>
<g id="n-cstdlib"><rect class="g" x="3256.3" y="1551" width="60.3" height="28"/><text x="3286.5" y="1570">cstdlib</text></g>
<g id="n-lo-mappers"><rect class="k" x="2525.5" y="1551" width="97.6" height="28"/><text x="2574.3" y="1570">lo-mappers.h</text></g>
<g id="n-lo-traits"><rect class="k" x="2645.4" y="1551" width="76.5" height="28"/><text x="2683.7" y="1570">lo-traits.h</text></g>
<g id="n-iosfwd"><rect class="g" x="4686.3" y="1551" width="59.5" height="28"/><text x="4716" y="1570">iosfwd</text></g>
<g id="n-lo-math"><rect class="k" x="2536.3" y="1629" width="75.9" height="28"/><text x="2574.3" y="1648">lo-math.h</text></g>
<g id="n-limits"><rect class="g" x="2709.3" y="1629" width="53" height="28"/><text x="2735.8" y="1648">limits</text></g>
<g id="n-oct-cmplx"><rect class="k" x="5321.4" y="1629" width="90.3" height="28"/><text x="5366.6" y="1648">oct-cmplx.h</text></g>
<g id="n-math"><rect class="g" x="2542.9" y="1706" width="62.7" height="28"/><text x="2574.3" y="1725">math.h</text></g>
<g id="n-complex"><rect class="g" x="5331.6" y="1706" width="69.9" height="28"/><text x="5366.6" y="1725">complex</text></g>
</g>
</g>
</svg>
